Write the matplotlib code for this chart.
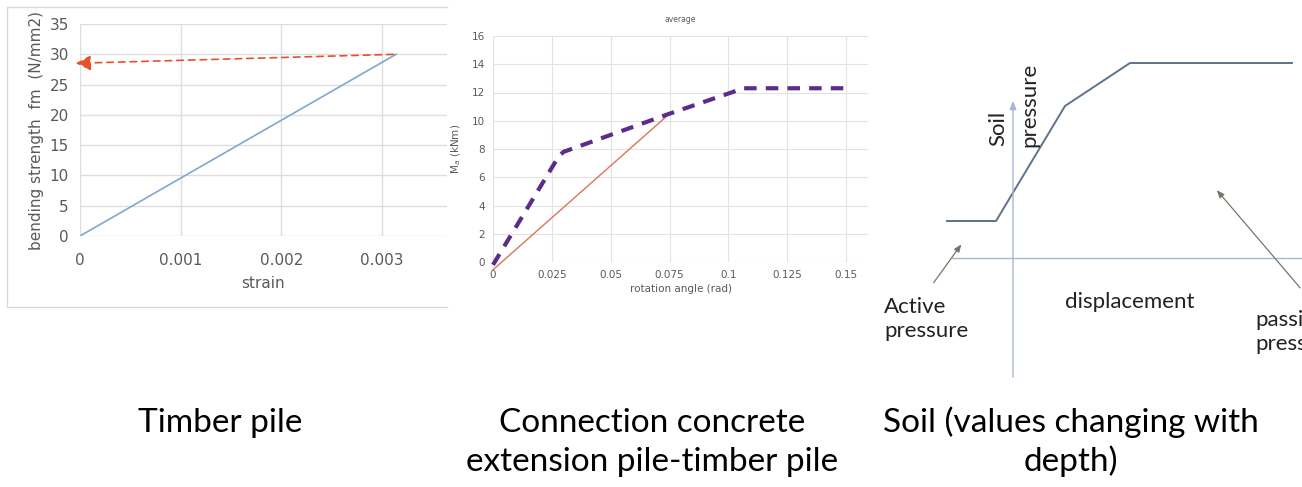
import matplotlib
matplotlib.use("Agg")
import matplotlib.pyplot as plt
from matplotlib.lines import Line2D

W, H = 1302, 487

# ---- data ----
# Panel 1: timber pile
strain = [0.0, 0.00314]
fm = [0.0, 30.0]
arrow_start = (0.00314, 30.0)
arrow_end = (-0.00007, 28.5)
p1_xticks = [0, 0.001, 0.002, 0.003]
p1_xticklabels = ["0", "0.001", "0.002", "0.003"]
p1_yticks = [0, 5, 10, 15, 20, 25, 30, 35]

# Panel 2: connection
rot_dash = [0.0, 0.028, 0.030, 0.075, 0.103, 0.106, 0.15]
mom_dash = [-0.2, 7.5, 7.8, 10.5, 12.1, 12.3, 12.3]
rot_lin = [0.0, 0.075]
mom_lin = [-0.55, 10.5]
p2_xticks = [0, 0.025, 0.05, 0.075, 0.1, 0.125, 0.15]
p2_xticklabels = ["0", "0.025", "0.05", "0.075", "0.1", "0.125", "0.15"]
p2_yticks = [0, 2, 4, 6, 8, 10, 12, 14, 16]

# Panel 3: soil schematic (displacement, pressure) in arbitrary units
soil_disp = [-66, -17, 52, 117, 279]
soil_pres = [37, 37, 152, 195, 195]

captions = ["Timber pile",
            "Connection concrete\nextension pile-timber pile",
            "Soil (values changing with\ndepth)"]
caption_x = [220, 652, 1071]

fig = plt.figure(figsize=(W / 100, H / 100), dpi=100)


def rect(l, t, r, b):
    return [l / W, 1 - b / H, (r - l) / W, (b - t) / H]


gray_txt = "#595959"
grid_c = "#d9d9d9"

# ---- Panel 1 frame (cropped on the right) ----
fx = [447 / W, 7 / W, 7 / W, 447 / W]
fy = [1 - 7 / H, 1 - 7 / H, 1 - 307 / H, 1 - 307 / H]
fig.lines.append(Line2D(fx, fy, transform=fig.transFigure,
                        color="#d9d9d9", lw=1.0))

ax1 = fig.add_axes(rect(80, 24, 447, 236))
ax1.set_xlim(0, 0.003646)
ax1.set_ylim(0, 35)
for s in ax1.spines.values():
    s.set_visible(False)
ax1.set_xticks(p1_xticks)
ax1.set_xticklabels(p1_xticklabels)
ax1.set_yticks(p1_yticks)
ax1.grid(True, color="#dedede", lw=1.0)
ax1.set_axisbelow(True)
ax1.tick_params(length=0, labelsize=11, colors=gray_txt, pad=12)
ax1.tick_params(axis="y", pad=8)
ax1.plot(strain, fm, color="#7fa7cf", lw=1.2)
ax1.annotate("", xy=arrow_end, xytext=arrow_start, annotation_clip=False,
             arrowprops=dict(arrowstyle="-|>,head_length=0.9,head_width=0.45",
                             color="#e8502a", lw=1.2, ls=(0, (4, 3))))
ax1.set_xlabel("strain", fontsize=11, color=gray_txt, labelpad=6)
ax1.set_ylabel("bending strength  fm  (N/mm2)", fontsize=11, color=gray_txt,
               labelpad=4)

# ---- Panel 2 ----
ax2 = fig.add_axes(rect(493, 36, 868, 262))
ax2.set_xlim(0, 0.1593)
ax2.set_ylim(0, 16)
for s in ax2.spines.values():
    s.set_visible(False)
ax2.set_xticks(p2_xticks)
ax2.set_xticklabels(p2_xticklabels)
ax2.set_yticks(p2_yticks)
ax2.grid(True, color="#e3e3e3", lw=0.8)
ax2.set_axisbelow(True)
ax2.tick_params(length=0, labelsize=7.5, colors=gray_txt, pad=6)
ax2.plot(rot_lin, mom_lin, color="#d9755a", lw=1.0, clip_on=False)
ax2.plot(rot_dash, mom_dash, color="#5b2c8a", lw=3, ls=(0, (3, 2.2)),
         clip_on=False, solid_capstyle="butt")
ax2.set_title("average", fontsize=5.5, color=gray_txt, pad=10)
ax2.set_xlabel("rotation angle (rad)", fontsize=7.5, color=gray_txt, labelpad=3)
ax2.set_ylabel("M$_a$ (kNm)", fontsize=7.5, color=gray_txt, labelpad=6)

# ---- Panel 3 ----
ax3 = fig.add_axes(rect(870, 0, 1302, 390))
ax3.set_xlim(-143, 289)
ax3.set_ylim(-132, 258)
ax3.axis("off")
axis_c = "#a8b6d6"
ax3.plot([-61, 289], [0, 0], color=axis_c, lw=1.0)
ax3.annotate("", xy=(0, 160), xytext=(0, -122),
             arrowprops=dict(arrowstyle="-|>,head_length=0.5,head_width=0.2",
                             color=axis_c, lw=1.0))
ax3.plot(soil_disp, soil_pres, color="#5f7289", lw=1.4)
arrow_c = "#6f7a6a"
ax3.annotate("", xy=(-50, 16), xytext=(-81, -27),
             arrowprops=dict(arrowstyle="-|>,head_length=0.45,head_width=0.18",
                             color=arrow_c, lw=0.9))
ax3.annotate("", xy=(202, 70), xytext=(289, -32),
             arrowprops=dict(arrowstyle="-|>,head_length=0.45,head_width=0.18",
                             color=arrow_c, lw=0.9))
tf = dict(family="Lato", color="#222222", fontsize=16)
ax3.text(-15, 130, "Soil", rotation=90, ha="center", va="center", **tf)
ax3.text(16, 153, "pressure", rotation=90, ha="center", va="center", **tf)
ax3.text(-129, -61, "Active\npressure", ha="left", va="center",
         linespacing=1.3, **tf)
ax3.text(52, -44, "displacement", ha="left", va="center", **tf)
ax3.text(242, -74, "passive\npressure", ha="left", va="center",
         linespacing=1.3, clip_on=True, **tf)

# ---- captions ----
cf = dict(family="Lato", color="black", fontsize=24, ha="center",
          va="baseline")
baselines = [432, 471]
for cx, cap in zip(caption_x, captions):
    for i, line in enumerate(cap.split("\n")):
        fig.text(cx / W, 1 - baselines[i] / H, line, **cf)

fig.savefig("out.png", dpi=100, facecolor="white")
